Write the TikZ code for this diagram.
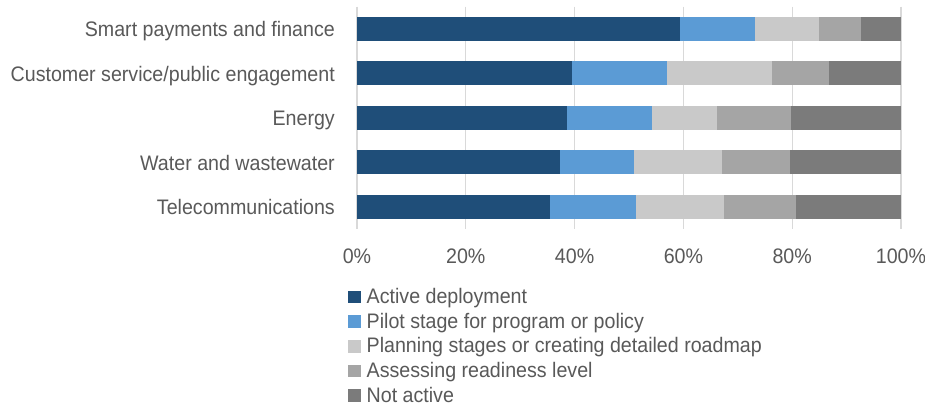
\documentclass[tikz,border=0pt]{standalone}
\usepackage{fontspec}
\setmainfont{Liberation Sans}[FakeStretch=0.935]
\definecolor{cA}{HTML}{1F4E79}
\definecolor{cB}{HTML}{5B9BD5}
\definecolor{cC}{HTML}{C9C9C9}
\definecolor{cD}{HTML}{A5A5A5}
\definecolor{cE}{HTML}{7B7B7B}
\definecolor{txt}{HTML}{595959}
\definecolor{grid}{HTML}{D9D9D9}
\tikzset{
  lbl/.style={inner sep=0pt, text=txt, font=\fontsize{21}{24}\selectfont},
  gridline/.style={draw=grid, line width=1.3pt},
}
\begin{document}
\begin{tikzpicture}[x=1pt,y=-1pt]
\useasboundingbox[fill=white] (0,0) rectangle (925,406);
% gridlines
\foreach \i in {0,...,5} {
  \draw[gridline] ({357+544*\i/5},6.7) -- ({357+544*\i/5},228.6);
}
% bars
\def\bw{544}
\foreach \r/\a/\b/\c/\d [count=\k from 0] in {
  0.5935/0.7315/0.8498/0.9273/Smart payments and finance,
  0.395/0.5697/0.7627/0.8674/Customer service\slash public engagement,
  0.3861/0.5418/0.6615/0.7981/Energy,
  0.3732/0.5092/0.6716/0.7961/Water and wastewater,
  0.3549/0.5126/0.6751/0.8069/Telecommunications} {
  \pgfmathsetmacro{\yc}{28.8+44.5*\k}
  \fill[cA] (357,\yc-12) rectangle ({357+\bw*\r},\yc+12);
  \fill[cB] ({357+\bw*\r},\yc-12) rectangle ({357+\bw*\a},\yc+12);
  \fill[cC] ({357+\bw*\a},\yc-12) rectangle ({357+\bw*\b},\yc+12);
  \fill[cD] ({357+\bw*\b},\yc-12) rectangle ({357+\bw*\c},\yc+12);
  \fill[cE] ({357+\bw*\c},\yc-12) rectangle (901,\yc+12);
  \node[lbl, anchor=base east] (cat\k) at (335,\yc+7.8) {\d};
}
% tick labels
\foreach \i in {0,...,5} {
  \pgfmathtruncatemacro{\p}{20*\i}
  \node[lbl, anchor=base] (tick\i) at ({357+544*\i/5},263) {\p\%};
}
% legend
\foreach \col/\t [count=\k from 0] in {
  cA/Active deployment,
  cB/Pilot stage for program or policy,
  cC/Planning stages or creating detailed roadmap,
  cD/Assessing readiness level,
  cE/Not active} {
  \pgfmathsetmacro{\yc}{297+24.6*\k}
  \fill[\col] (348,\yc-6.3) rectangle (360.5,\yc+6.3);
  \node[lbl, anchor=base west] (leg\k) at (366.5,\yc+6.6) {\t};
}
\end{tikzpicture}
\end{document}
